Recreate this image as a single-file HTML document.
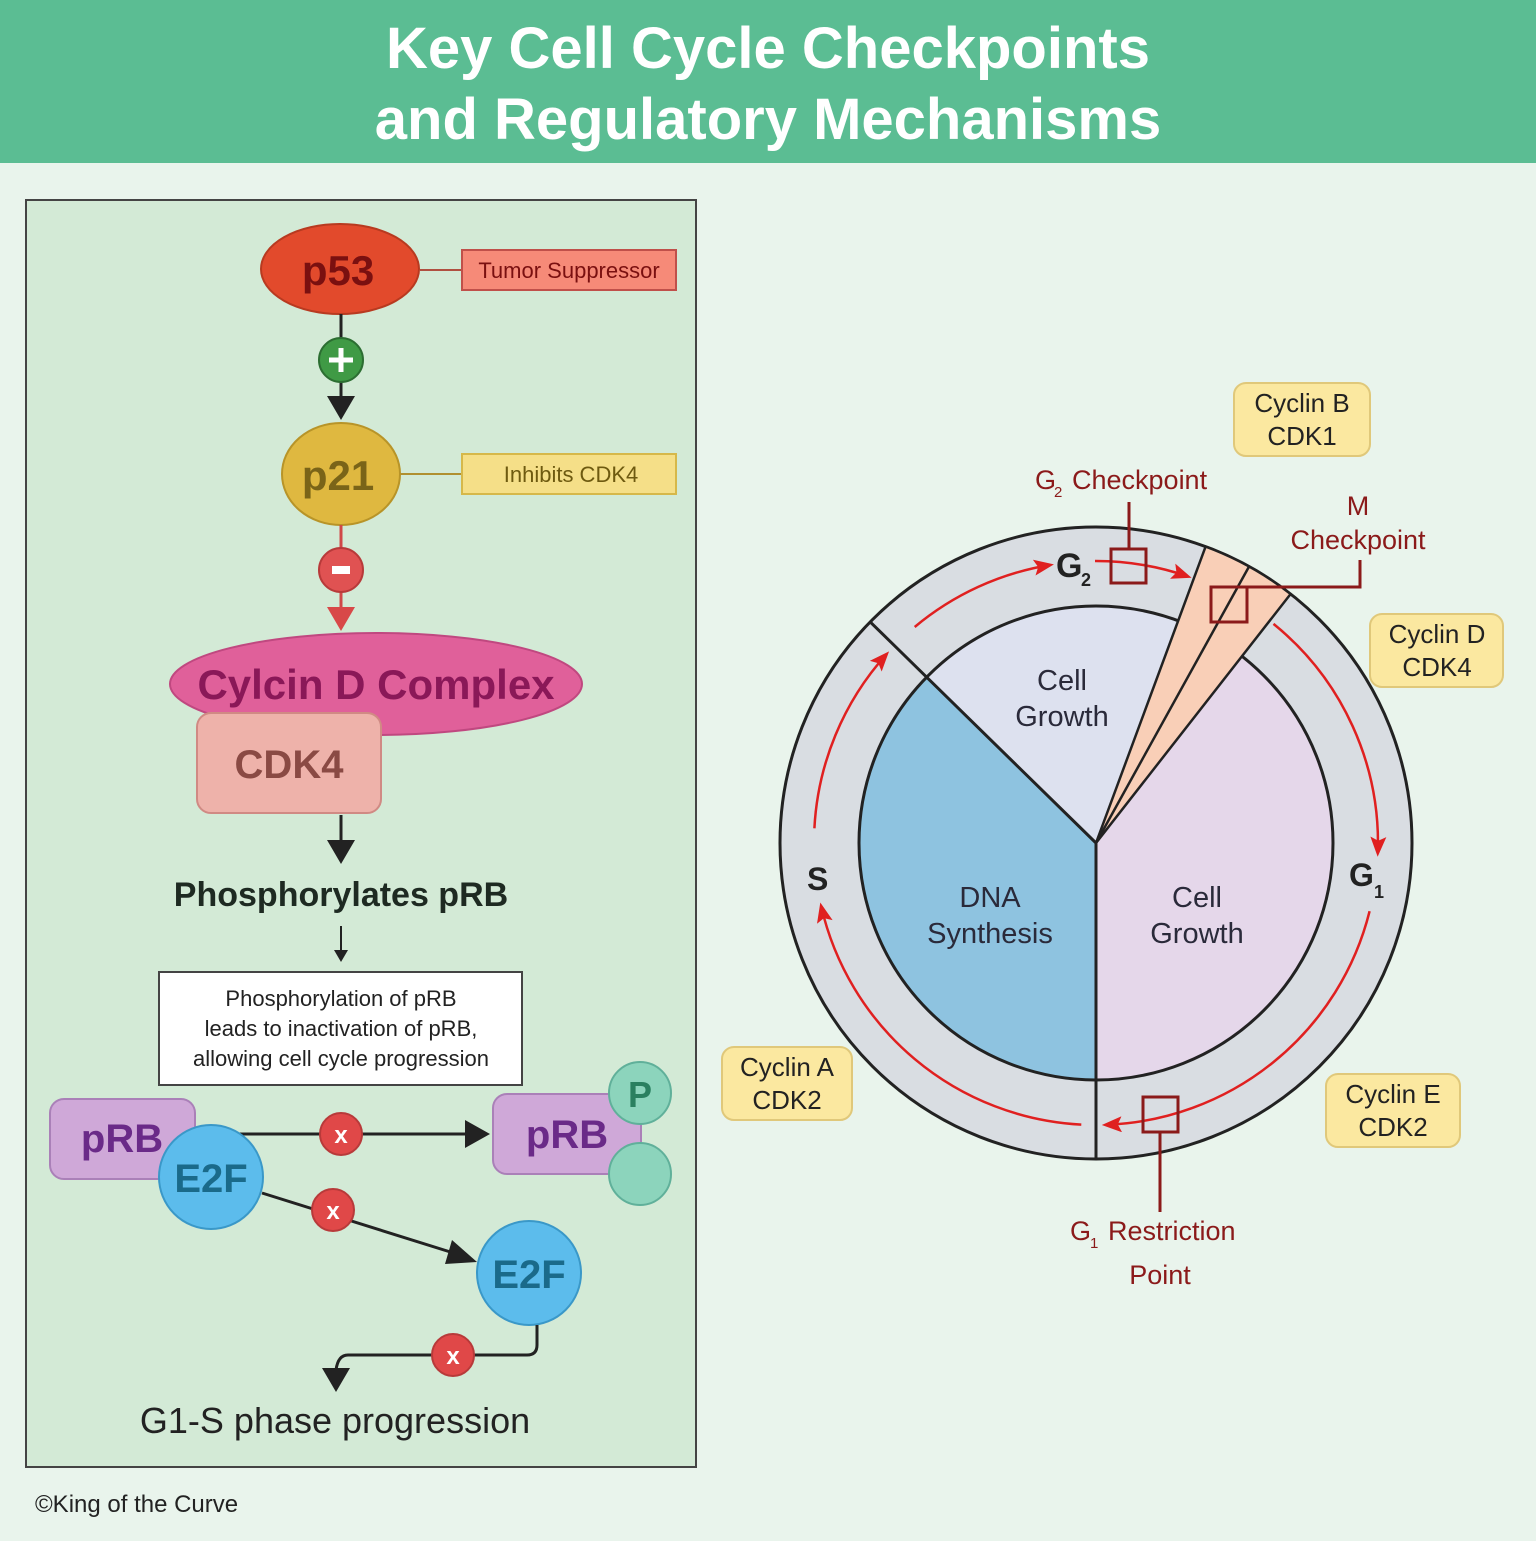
<!DOCTYPE html>
<html><head><meta charset="utf-8"><style>
html,body{margin:0;padding:0;}
body{width:1536px;height:1536px;background:#e9f4ec;overflow:hidden;}
svg text{font-family:"Liberation Sans","DejaVu Sans",sans-serif;}
</style></head><body>
<svg width="1536" height="1536" viewBox="0 0 1536 1536" xmlns="http://www.w3.org/2000/svg">
<defs>
<marker id="ab" markerWidth="20" markerHeight="16" refX="16" refY="8" orient="auto" markerUnits="userSpaceOnUse"><path d="M0,0 L20,8 L0,16 L4,8 Z" fill="#e02020"/></marker>
</defs>
<rect x="0" y="0" width="1536" height="1536" fill="#e9f4ec"/>
<rect x="0" y="0" width="1536" height="163" fill="#5bbd93"/>
<text x="768" y="68" text-anchor="middle" font-size="58" font-weight="bold" fill="#fff">Key Cell Cycle Checkpoints</text>
<text x="768" y="139" text-anchor="middle" font-size="58" font-weight="bold" fill="#fff">and Regulatory Mechanisms</text>

<rect x="26" y="200" width="670" height="1267" fill="#d3ead6" stroke="#444" stroke-width="2"/>
<line x1="420" y1="270" x2="462" y2="270" stroke="#b05040" stroke-width="2"/>
<rect x="462" y="250" width="214" height="40" fill="#f68a78" stroke="#c0504a" stroke-width="2"/>
<text x="569" y="278" text-anchor="middle" font-size="22" fill="#7a1010">Tumor Suppressor</text>
<ellipse cx="340" cy="269" rx="79" ry="45" fill="#e24a2c" stroke="#b83a20" stroke-width="2"/>
<text x="338" y="285" text-anchor="middle" font-size="42" font-weight="bold" fill="#7a1010">p53</text>
<line x1="341" y1="314" x2="341" y2="400" stroke="#222" stroke-width="3"/>
<circle cx="341" cy="360" r="22" fill="#3f9a45" stroke="#2c6e32" stroke-width="2"/>
<path d="M329 360 H353 M341 348 V372" stroke="#fff" stroke-width="5"/>
<path d="M327 396 L355 396 L341 420 Z" fill="#222"/>
<line x1="400" y1="474" x2="462" y2="474" stroke="#b09030" stroke-width="2"/>
<rect x="462" y="454" width="214" height="40" fill="#f5df88" stroke="#d6b84a" stroke-width="2"/>
<text x="571" y="482" text-anchor="middle" font-size="22" fill="#6e5a10">Inhibits CDK4</text>
<ellipse cx="341" cy="474" rx="59" ry="51" fill="#dfb840" stroke="#b89428" stroke-width="2"/>
<text x="338" y="490" text-anchor="middle" font-size="42" font-weight="bold" fill="#7a6418">p21</text>
<line x1="341" y1="525" x2="341" y2="610" stroke="#d04848" stroke-width="3"/>
<circle cx="341" cy="570" r="22" fill="#e05252" stroke="#b83a3a" stroke-width="2"/>
<rect x="332" y="566" width="18" height="8" fill="#fff"/>
<path d="M327 607 L355 607 L341 631 Z" fill="#d84848"/>
<ellipse cx="376" cy="684" rx="206" ry="51" fill="#e0609a" stroke="#c04880" stroke-width="2"/>
<text x="376" y="699" text-anchor="middle" font-size="42" font-weight="bold" fill="#8a1858">Cylcin D Complex</text>
<rect x="197" y="713" width="184" height="100" rx="14" fill="#eeb2aa" stroke="#d08a84" stroke-width="2"/>
<text x="289" y="778" text-anchor="middle" font-size="40" font-weight="bold" fill="#8a4a44">CDK4</text>
<line x1="341" y1="815" x2="341" y2="845" stroke="#222" stroke-width="3"/>
<path d="M327 840 L355 840 L341 864 Z" fill="#222"/>
<text x="341" y="906" text-anchor="middle" font-size="34" font-weight="bold" fill="#1e2a22">Phosphorylates pRB</text>
<line x1="341" y1="926" x2="341" y2="955" stroke="#222" stroke-width="2"/>
<path d="M334 950 L348 950 L341 962 Z" fill="#222"/>
<rect x="159" y="972" width="363" height="113" fill="#fff" stroke="#444" stroke-width="2"/>
<text x="341" y="1006" text-anchor="middle" font-size="22" fill="#222">Phosphorylation of pRB</text>
<text x="341" y="1036" text-anchor="middle" font-size="22" fill="#222">leads to inactivation of pRB,</text>
<text x="341" y="1066" text-anchor="middle" font-size="22" fill="#222">allowing cell cycle progression</text>

<rect x="50" y="1099" width="145" height="80" rx="14" fill="#cfa8d8" stroke="#aa80b8" stroke-width="2"/>
<text x="122" y="1152" text-anchor="middle" font-size="40" font-weight="bold" fill="#6a2a88">pRB</text>
<line x1="200" y1="1134" x2="470" y2="1134" stroke="#222" stroke-width="3"/>
<path d="M465 1120 L490 1134 L465 1148 Z" fill="#222"/>
<circle cx="341" cy="1134" r="21" fill="#e04848" stroke="#b83a3a" stroke-width="2"/>
<text x="341" y="1143" text-anchor="middle" font-size="24" font-weight="bold" fill="#fff">x</text>
<line x1="262" y1="1193" x2="460" y2="1255" stroke="#222" stroke-width="3"/>
<path d="M452 1240 L477 1262 L445 1264 Z" fill="#222"/>
<circle cx="333" cy="1210" r="21" fill="#e04848" stroke="#b83a3a" stroke-width="2"/>
<text x="333" y="1219" text-anchor="middle" font-size="24" font-weight="bold" fill="#fff">x</text>
<circle cx="211" cy="1177" r="52" fill="#5cbcec" stroke="#3a98c8" stroke-width="2"/>
<text x="211" y="1192" text-anchor="middle" font-size="40" font-weight="bold" fill="#1a6a8a">E2F</text>
<rect x="493" y="1094" width="148" height="80" rx="14" fill="#cfa8d8" stroke="#aa80b8" stroke-width="2"/>
<text x="567" y="1148" text-anchor="middle" font-size="40" font-weight="bold" fill="#6a2a88">pRB</text>
<circle cx="640" cy="1093" r="31" fill="#8cd4bc" stroke="#60b09a" stroke-width="2"/>
<text x="640" y="1107" text-anchor="middle" font-size="36" font-weight="bold" fill="#2a8060">P</text>
<circle cx="640" cy="1174" r="31" fill="#8cd4bc" stroke="#60b09a" stroke-width="2"/>
<circle cx="529" cy="1273" r="52" fill="#5cbcec" stroke="#3a98c8" stroke-width="2"/>
<text x="529" y="1288" text-anchor="middle" font-size="40" font-weight="bold" fill="#1a6a8a">E2F</text>
<path d="M537 1325 V1345 Q537 1355 527 1355 H348 Q338 1355 336 1370" fill="none" stroke="#222" stroke-width="3"/>
<path d="M322 1368 L350 1368 L336 1392 Z" fill="#222"/>
<circle cx="453" cy="1355" r="21" fill="#e04848" stroke="#b83a3a" stroke-width="2"/>
<text x="453" y="1364" text-anchor="middle" font-size="24" font-weight="bold" fill="#fff">x</text>
<text x="335" y="1433" text-anchor="middle" font-size="36" fill="#222">G1-S phase progression</text>
<text x="35" y="1512" font-size="24" fill="#222">©King of the Curve</text>

<circle cx="1096" cy="843" r="316" fill="#d9dde2" stroke="#222" stroke-width="3"/>
<path d="M1096 843 L926.7 677.2 A237 237 0 0 1 1178.2 620.7 Z" fill="#dde1ef"/>
<path d="M1096 843 L1241.9 656.2 A237 237 0 0 1 1096 1080 Z" fill="#e5d7ea"/>
<path d="M1096 843 L1096 1080 A237 237 0 0 1 926.7 677.2 Z" fill="#8ec3e0"/>
<circle cx="1096" cy="843" r="237" fill="none" stroke="#222" stroke-width="3"/>
<path d="M1096 843 L1205.6 546.6 A316 316 0 0 1 1290.6 594 Z" fill="#f9cfb7" stroke="#222" stroke-width="2.5"/>
<line x1="1096" y1="843" x2="1249" y2="566.6" stroke="#222" stroke-width="2.5"/>
<line x1="1096" y1="843" x2="870.2" y2="621.9" stroke="#222" stroke-width="3"/>
<line x1="1096" y1="843" x2="1096" y2="1160" stroke="#222" stroke-width="3"/>

<g fill="none" stroke="#e02020" stroke-width="2.5" marker-end="url(#ab)">
<path d="M814.4 828.3 A282 282 0 0 1 886.4 654.3"/>
<path d="M914.7 627 A282 282 0 0 1 1050 565"/>
<path d="M1095 561 A282 282 0 0 1 1187.8 576.4"/>
<path d="M1273.5 623.9 A282 282 0 0 1 1377.8 852.8"/>
<path d="M1369.6 911.2 A282 282 0 0 1 1105.8 1124.8"/>
<path d="M1081.3 1124.6 A282 282 0 0 1 821.2 906.4"/>
</g>

<text x="1056" y="577" font-size="34" font-weight="bold" fill="#222">G</text>
<text x="1081" y="586" font-size="18" font-weight="bold" fill="#222">2</text>
<text x="807" y="890" font-size="32" font-weight="bold" fill="#222">S</text>
<text x="1349" y="886" font-size="32" font-weight="bold" fill="#222">G</text>
<text x="1374" y="898" font-size="18" font-weight="bold" fill="#222">1</text>
<g font-size="29" fill="#2a2a3a" text-anchor="middle">
<text x="1062" y="690">Cell</text><text x="1062" y="726">Growth</text>
<text x="990" y="907">DNA</text><text x="990" y="943">Synthesis</text>
<text x="1197" y="907">Cell</text><text x="1197" y="943">Growth</text>
</g>

<g fill="none" stroke="#8b1a1a" stroke-width="3">
<line x1="1129" y1="502" x2="1129" y2="549"/>
<rect x="1111" y="549" width="35" height="34"/>
<path d="M1247 587 H1360 V560"/>
<rect x="1211" y="587" width="36" height="35"/>
<rect x="1143" y="1097" width="35" height="35"/>
<line x1="1160" y1="1132" x2="1160" y2="1212"/>
</g>
<g fill="#8b1a1a" font-size="27">
<text x="1035" y="489">G</text><text x="1054" y="497" font-size="15">2</text><text x="1072" y="489">Checkpoint</text>
<text x="1358" y="515" text-anchor="middle">M</text>
<text x="1358" y="549" text-anchor="middle">Checkpoint</text>
<text x="1070" y="1240">G</text><text x="1090" y="1248" font-size="15">1</text><text x="1108" y="1240">Restriction</text>
<text x="1160" y="1284" text-anchor="middle">Point</text>
</g>

<g fill="#fbe8a0" stroke="#e0c87a" stroke-width="2">
<rect x="1234" y="383" width="136" height="73" rx="12"/>
<rect x="1370" y="614" width="133" height="73" rx="12"/>
<rect x="722" y="1047" width="130" height="73" rx="12"/>
<rect x="1326" y="1074" width="134" height="73" rx="12"/>
</g>
<g font-size="26" fill="#222" text-anchor="middle">
<text x="1302" y="412">Cyclin B</text><text x="1302" y="445">CDK1</text>
<text x="1437" y="643">Cyclin D</text><text x="1437" y="676">CDK4</text>
<text x="787" y="1076">Cyclin A</text><text x="787" y="1109">CDK2</text>
<text x="1393" y="1103">Cyclin E</text><text x="1393" y="1136">CDK2</text>
</g>
</svg>
</body></html>
